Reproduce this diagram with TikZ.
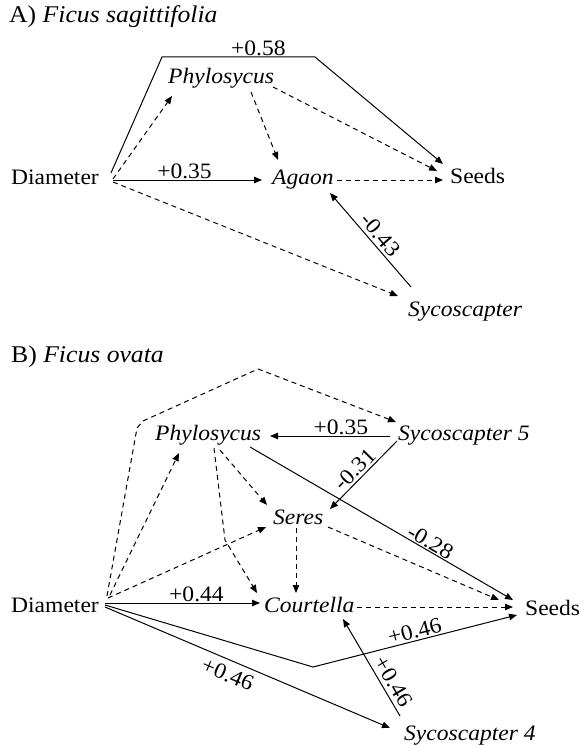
\documentclass[tikz,border=0pt]{standalone}
\usepackage{fontspec}
\setmainfont{Liberation Serif}[FakeStretch=1.07]
\usetikzlibrary{arrows.meta,calc}
\tikzset{
  lbl/.style={font=\fontsize{22}{26}\selectfont, inner sep=0pt, anchor=base west},
  ttl/.style={font=\fontsize{24}{28}\selectfont, inner sep=0pt, anchor=base west},
  sol/.style={line width=1pt, -{Triangle[length=8pt,width=6.5pt]}},
  das/.style={sol, dash pattern=on 5pt off 4pt},
  coef/.style={font=\fontsize{22}{26}\selectfont, sloped, inner sep=1pt}
}
\begin{document}
\begin{tikzpicture}[x=1pt,y=-1pt]
\useasboundingbox (0,0) rectangle (580,746);
% ---------------- Panel A
\node[ttl] (tA) at (9,23) {A) \textit{Ficus sagittifolia}};
\node[lbl] (diaA) at (11,185) {Diameter};
\node[lbl] (phyA) at (168,84) {\textit{Phylosycus}};
\node[lbl] (agaA) at (272,185) {\textit{Agaon}};
\node[lbl] (seedA) at (450,183) {Seeds};
\node[lbl] (sycA) at (408,316) {\textit{Sycoscapter}};
\coordinate (hubA) at ($(diaA.base east)+(13,-5)$);
\coordinate (cA1) at (162,57);
\coordinate (cA2) at (315,57);
\draw[sol] ($(hubA)+(-1,-7)$) -- (cA1) -- node[coef, above, pos=0.63]{+0.58} (cA2) -- ($(seedA.base west)+(-7,-19)$);
\draw[das] ($(hubA)+(1,-1)$) -- ($(phyA.base west)+(4,12)$);
\draw[das] ($(phyA.base west)+(83,8)$) -- ($(agaA.base west)+(6,-25)$);
\draw[das] ($(phyA.base west)+(105,3)$) -- ($(seedA.base west)+(-13,-12)$);
\draw[sol] ($(hubA)+(1,0)$) -- node[coef, above, pos=0.48]{+0.35} ($(agaA.base west)+(-10,-5)$);
\draw[das] ($(agaA.base west)+(65,-5)$) -- ($(seedA.base west)+(-7,-3)$);
\draw[sol] ($(sycA.base west)+(3,-29)$) -- node[coef, above, pos=0.48, inner sep=3pt]{-0.43} ($(agaA.base west)+(58,8)$);
\draw[das] ($(hubA)+(1,2)$) -- ($(sycA.base west)+(-10,-20)$);
% ---------------- Panel B
\node[ttl] (tB) at (11,362) {B) \textit{Ficus ovata}};
\node[lbl] (diaB) at (11,612) {Diameter};
\node[lbl] (phyB) at (155,440) {\textit{Phylosycus}};
\node[lbl] (syc5) at (398,440) {\textit{Sycoscapter 5}};
\node[lbl] (seres) at (273,524) {\textit{Seres}};
\node[lbl] (court) at (264,612) {\textit{Courtella}};
\node[lbl] (seedB) at (525,615) {Seeds};
\node[lbl] (syc4) at (404,740) {\textit{Sycoscapter 4}};
\coordinate (hubB) at ($(diaB.base east)+(6,-9)$);
\coordinate (cB1) at (137,428);
\coordinate (cB2) at (143,421);
\coordinate (cB3) at (258,369);
\coordinate (cB4) at (225,540);
\coordinate (cB5) at (313,667);
\draw[das] ($(hubB)+(2,-7)$) -- (cB1) -- (cB2) -- (cB3) -- ($(syc5.base west)+(-2,-18)$);
\draw[sol] ($(syc5.base west)+(-8,-4)$) -- node[coef, above, pos=0.41, inner sep=0.5pt]{+0.35} ($(phyB.base west)+(115,-4)$);
\draw[sol] ($(syc5.base west)+(-1,1)$) -- node[coef, above, pos=0.52, inner sep=2pt]{-0.31} ($(seres.base west)+(57,-15)$);
\draw[sol] ($(phyB.base west)+(95,7)$) -- node[coef, above, pos=0.67, inner sep=0.5pt]{-0.28} ($(seedB.base west)+(-12,-15)$);
\draw[das] ($(hubB)+(5,-8)$) -- ($(phyB.base west)+(24,13)$);
\draw[das] ($(phyB.base west)+(65,10)$) -- ($(seres.base west)+(-6,-19)$);
\draw[das] ($(phyB.base west)+(59,8)$) -- (cB4) -- ($(court.base west)+(-7,-19)$);
\draw[das] ($(hubB)+(3,-5)$) -- ($(seres.base west)+(-7,3)$);
\draw[das] ($(seres.base west)+(23,4)$) -- ($(court.base west)+(32,-19)$);
\draw[das] ($(seres.base west)+(55,3)$) -- ($(seedB.base west)+(-26,-15)$);
\draw[sol] (hubB) -- node[coef, above, pos=0.59, inner sep=0.5pt]{+0.44} ($(court.base west)+(-4,-9)$);
\draw[das] ($(court.base west)+(93,-5)$) -- ($(seedB.base west)+(-12,-8)$);
\draw[sol] ($(hubB)+(0,2)$) -- (cB5) -- node[coef, above, pos=0.51, inner sep=1.5pt]{+0.46} ($(seedB.base west)+(-8,0)$);
\draw[sol] ($(hubB)+(0,4)$) -- node[coef, below, pos=0.45, inner sep=6pt]{+0.46} ($(syc4.base west)+(-14,-12)$);
\draw[sol] ($(syc4.base west)+(-4,-24)$) -- node[coef, above, pos=0.29, inner sep=4pt]{+0.46} ($(court.base west)+(79,7)$);
\end{tikzpicture}
\end{document}
